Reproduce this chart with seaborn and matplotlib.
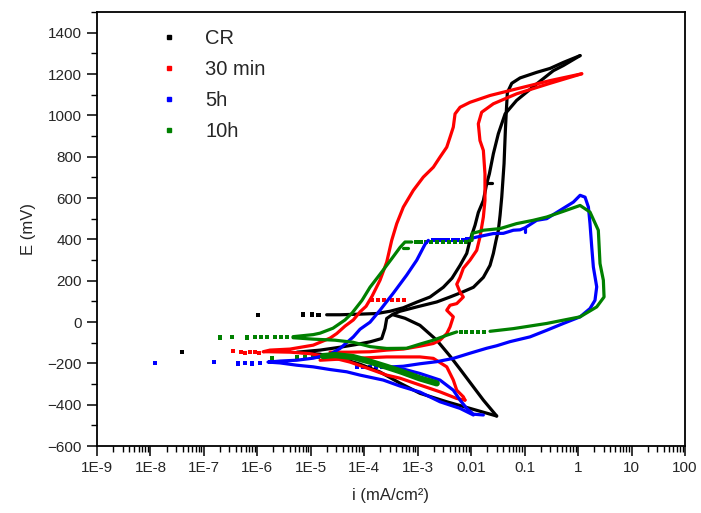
import numpy as np
import pandas as pd
import matplotlib
matplotlib.use("Agg")
import matplotlib.pyplot as plt
import seaborn as sns
from matplotlib.ticker import FixedLocator, FixedFormatter, LogLocator, NullFormatter, MultipleLocator
from matplotlib.lines import Line2D

# ---------------- data (i in mA/cm2, E in mV) ----------------
series_names = ["CR", "30 min", "5h", "10h"]
series_colors = ["#000000", "#ff0000", "#0000ff", "#008000"]

# CR
cr_fwd_i = [3.0e-2, 9.5e-3, 3.49e-3, 1.10e-3, 4.67e-4, 1.97e-4, 8.33e-5, 3.52e-5, 1.49e-5, 5.52e-6,
            1.49e-5, 3.52e-5, 6.71e-5, 1.28e-4, 2.12e-4, 2.44e-4, 2.63e-4, 3.45e-4, 4.67e-4, 9.58e-4,
            2.27e-3, 4.02e-3, 6.74e-3, 1.10e-2, 1.69e-2, 2.25e-2, 2.60e-2, 2.92e-2, 3.22e-2, 3.47e-2,
            3.73e-2, 4.12e-2, 4.36e-2, 4.55e-2, 4.75e-2, 5.74e-2, 8.22e-2, 0.168, 0.299, 0.53, 1.09]
cr_fwd_E = [-455, -418, -386, -345, -296, -242, -204, -175, -156, -146,
            -136, -122, -110, -96, -80, -31, 17, 38, 52, 73,
            97, 121, 144, 168, 216, 274, 332, 395, 443, 516,
            604, 766, 927, 1023, 1110, 1155, 1181, 1208, 1227, 1256, 1289]
cr_rev_i = [1.09, 0.53, 0.344, 0.168, 7.06e-2, 4.31e-2, 3.22e-2, 2.60e-2, 2.19e-2, 1.95e-2,
            1.69e-2, 1.36e-2, 1.18e-2, 9.5e-3, 8.26e-3, 6.19e-3, 4.38e-3, 3.01e-3, 1.70e-3, 9.58e-4,
            5.38e-4, 3.03e-4, 1.71e-4, 8.33e-5, 3.52e-5, 1.98e-5]
cr_rev_E = [1289, 1241, 1216, 1152, 1072, 1007, 911, 814, 717, 669,
            588, 530, 468, 395, 332, 274, 212, 168, 121, 96,
            69, 52, 41, 38, 35, 35]
cr_diag_i = [3.45e-4, 5.79e-4, 1.10e-3, 2.27e-3, 4.02e-3, 6.19e-3, 1.10e-2, 1.69e-2, 3.0e-2]
cr_diag_E = [35, 18, -16, -88, -165, -228, -314, -378, -455]
cr_spur_i = [1.98e-2, 2.46e-2]
cr_spur_E = [675, 675]
cr_dots_i = [3.85e-8, 1.04e-6, 7.24e-6, 1.04e-5, 1.39e-5]
cr_dots_E = [-147, 33, 36, 36, 35]

# 30 min
m30_fwd_i = [7.67e-3, 5.37e-3, 2.61e-3, 1.10e-3, 4.67e-4, 2.63e-4, 1.28e-4, 5.41e-5, 2.29e-5, 9.54e-6,
             4.08e-6, 1.72e-6, 1.28e-6, 1.72e-6, 4.08e-6, 1.11e-5, 2.29e-5, 3.05e-5, 4.36e-5, 6.24e-5,
             8.33e-5, 1.08e-4, 1.40e-4, 1.97e-4, 2.63e-4, 3.26e-4, 4.05e-4, 5.38e-4, 8.27e-4, 1.27e-3,
             1.96e-3, 2.61e-3, 3.49e-3, 4.02e-3, 4.63e-3, 4.99e-3, 6.19e-3, 9.5e-3, 2.25e-2, 7.06e-2,
             0.299, 1.17]
m30_fwd_E = [-378, -370, -338, -305, -272, -257, -228, -194, -170, -153,
             -146, -144, -144, -136, -131, -112, -78, -56, -20, 10,
             49, 76, 125, 202, 290, 395, 476, 556, 637, 701,
             749, 798, 846, 894, 943, 1007, 1039, 1063, 1096, 1128,
             1168, 1201]
m30_rev_i = [1.17, 0.299, 7.06e-2, 2.60e-2, 1.57e-2, 1.36e-2, 1.46e-2, 1.69e-2, 1.81e-2, 1.81e-2,
             1.69e-2, 1.46e-2, 1.27e-2, 9.5e-3, 7.13e-3, 6.19e-3, 5.37e-3, 6.19e-3, 7.13e-3, 5.37e-3,
             4.02e-3, 3.49e-3, 4.63e-3, 4.02e-3, 3.49e-3, 2.61e-3, 1.96e-3, 1.10e-3, 5.38e-4, 2.63e-4,
             1.28e-4, 5.41e-5, 2.29e-5]
m30_rev_E = [1201, 1155, 1104, 1056, 1015, 959, 878, 830, 717, 588,
             508, 411, 347, 299, 260, 216, 183, 144, 121, 89,
             81, 57, 25, -24, -56, -88, -104, -117, -131, -136,
             -144, -146, -146]
m30_bulge_i = [1.49e-5, 6.16e-5, 2.63e-4, 1.10e-3, 1.96e-3, 3.49e-3, 4.63e-3, 5.37e-3, 7.13e-3, 7.67e-3]
m30_bulge_E = [-185, -176, -169, -169, -176, -217, -281, -330, -362, -378]
m30_dots_i = [3.55e-7, 5.0e-7, 5.8e-7, 7.3e-7, 9.0e-7, 1.07e-6,
              1.40e-4, 1.81e-4, 2.34e-4, 3.31e-4, 4.28e-4, 5.54e-4]
m30_dots_E = [-140, -144, -151, -144, -146, -148,
              105, 105, 105, 105, 105, 105]

# 5h
h5_fwd_i = [1.10e-2, 6.19e-3, 2.61e-3, 1.10e-3, 4.67e-4, 2.27e-4, 8.33e-5, 4.70e-5, 2.29e-5, 1.11e-5,
            5.45e-6, 2.65e-6, 1.58e-6, 2.65e-6, 5.45e-6, 1.11e-5, 2.29e-5, 3.52e-5, 6.24e-5, 8.33e-5,
            1.28e-4, 1.97e-4, 3.48e-4, 6.22e-4, 9.58e-4, 1.37e-3, 1.58e-3]
h5_fwd_E = [-450, -418, -386, -339, -310, -281, -257, -241, -230, -217,
            -209, -198, -194, -189, -185, -175, -156, -128, -72, -35,
            -1, 57, 139, 227, 299, 376, 395]
h5_loop_i = [9.5e-3, 1.27e-2, 2.60e-2, 4.0e-2, 6.15e-2, 8.2e-2, 0.102, 0.168, 0.259, 0.459,
             0.815, 1.09, 1.35, 1.56, 1.67, 1.80, 1.93, 2.23, 2.07, 1.67,
             1.09, 0.53, 0.259, 0.126, 5.33e-2, 3.0e-2, 1.95e-2, 9.5e-3, 4.63e-3, 2.27e-3,
             1.10e-3, 5.38e-4, 2.78e-4]
h5_loop_E = [403, 411, 428, 429, 444, 446, 456, 492, 500, 540,
             580, 613, 604, 556, 476, 363, 266, 170, 105, 65,
             25, -7, -40, -72, -95, -115, -127, -151, -176, -192,
             -202, -214, -218]
h5_spur_i = [0.102, 0.102]
h5_spur_E = [434, 456]
h5_bulge_i = [3.03e-4, 5.79e-4, 1.10e-3, 2.61e-3, 4.63e-3, 6.19e-3, 8.26e-3, 1.10e-2, 1.69e-2]
h5_bulge_E = [-223, -230, -249, -281, -330, -378, -418, -446, -450]
h5_dots_i = [1.22e-8, 1.57e-7, 4.40e-7, 5.87e-7, 7.83e-7, 1.12e-6,
             1.97e-3, 2.44e-3, 3.03e-3, 3.75e-3, 4.66e-3, 5.77e-3, 7.16e-3, 8.51e-3,
             7.28e-5, 9.43e-5, 1.28e-4, 1.66e-4, 2.15e-4]
h5_dots_E = [-198, -194, -201, -199, -201, -197,
             395, 395, 395, 395, 395, 395, 395, 400,
             -217, -217, -217, -217, -217]

# 10h
h10_cath_i = [2.27e-3, 1.10e-3, 4.67e-4, 2.63e-4, 1.28e-4, 6.24e-5, 2.84e-5, 1.69e-5]
h10_cath_E = [-297, -273, -238, -217, -192, -170, -160, -165]
h10_anod_i = [4.65e-6, 1.11e-5, 1.49e-5, 2.60e-5, 4.36e-5, 5.9e-5, 9.08e-5, 1.28e-4, 1.97e-4, 3.30e-4,
              4.67e-4, 5.78e-4, 7.72e-4]
h10_anod_E = [-71, -61, -54, -30, 10, 43, 105, 168, 231, 308,
              361, 387, 387]
h10_spur_i = [5.31e-4, 6.59e-4]
h10_spur_E = [357, 357]
h10_loop_i = [9.17e-3, 1.04e-2, 1.04e-2, 1.34e-2, 1.69e-2, 3.47e-2, 7.06e-2, 0.144, 0.259, 0.523,
              1.09, 1.67, 2.39, 2.57, 2.97, 3.06, 2.23, 1.09, 0.259, 6.15e-2, 2.25e-2]
h10_loop_E = [393, 395, 429, 436, 444, 452, 476, 492, 508, 535,
              564, 532, 444, 283, 202, 121, 73, 25, -7, -32, -45]
h10_rev_i = [5.37e-3, 3.49e-3, 1.96e-3, 1.10e-3, 6.22e-4, 2.63e-4, 1.28e-4, 6.16e-5, 2.84e-5, 1.11e-5, 4.65e-6]
h10_rev_E = [-48, -64, -88, -107, -127, -128, -119, -98, -88, -83, -76]
h10_dots_i = [1.86e-6, 5.45e-6, 7.79e-6, 1.10e-5, 1.36e-5,
              2.0e-7, 3.32e-7, 6.31e-7, 9.04e-7, 1.17e-6, 1.50e-6, 2.14e-6, 2.77e-6, 3.59e-6,
              9.5e-4, 1.15e-3, 1.43e-3, 1.77e-3, 2.30e-3, 2.97e-3, 3.85e-3, 4.99e-3, 6.46e-3, 8.01e-3,
              1.74e-2, 1.34e-2, 1.04e-2, 8.01e-3, 6.46e-3]
h10_dots_E = [-176, -169, -169, -169, -170,
              -75, -72, -75, -72, -72, -72, -71, -72, -72,
              387, 387, 387, 387, 387, 387, 387, 387, 387, 387,
              -48, -48, -48, -48, -48]

x_tick_values = [1e-9, 1e-8, 1e-7, 1e-6, 1e-5, 1e-4, 1e-3, 1e-2, 1e-1, 1, 10, 100]
x_tick_labels = ["1E-9", "1E-8", "1E-7", "1E-6", "1E-5", "1E-4", "1E-3", "0.01", "0.1", "1", "10", "100"]
y_tick_values = [-600, -400, -200, 0, 200, 400, 600, 800, 1000, 1200, 1400]

# ---------------- build tables ----------------
line_rows, thick_rows, dot_rows = [], [], []

def add(rows, name, seg, ivals, evals):
    assert len(ivals) == len(evals), (name, seg)
    for a, b in zip(ivals, evals):
        rows.append({"series": name, "seg": f"{name}:{seg}", "i": a, "E": b})

add(line_rows, "CR", "fwd", cr_fwd_i, cr_fwd_E)
add(line_rows, "CR", "rev", cr_rev_i, cr_rev_E)
add(line_rows, "CR", "diag", cr_diag_i, cr_diag_E)
add(line_rows, "CR", "spur", cr_spur_i, cr_spur_E)
add(dot_rows, "CR", "dots", cr_dots_i, cr_dots_E)

add(line_rows, "30 min", "fwd", m30_fwd_i, m30_fwd_E)
add(line_rows, "30 min", "rev", m30_rev_i, m30_rev_E)
add(line_rows, "30 min", "bulge", m30_bulge_i, m30_bulge_E)
add(dot_rows, "30 min", "dots", m30_dots_i, m30_dots_E)

add(line_rows, "5h", "fwd", h5_fwd_i, h5_fwd_E)
add(line_rows, "5h", "loop", h5_loop_i, h5_loop_E)
add(line_rows, "5h", "spur", h5_spur_i, h5_spur_E)
add(line_rows, "5h", "bulge", h5_bulge_i, h5_bulge_E)
add(dot_rows, "5h", "dots", h5_dots_i, h5_dots_E)

add(thick_rows, "10h", "cath", h10_cath_i, h10_cath_E)
add(line_rows, "10h", "anod", h10_anod_i, h10_anod_E)
add(line_rows, "10h", "spur", h10_spur_i, h10_spur_E)
add(line_rows, "10h", "loop", h10_loop_i, h10_loop_E)
add(line_rows, "10h", "rev", h10_rev_i, h10_rev_E)
add(dot_rows, "10h", "dots", h10_dots_i, h10_dots_E)

df_lines = pd.DataFrame(line_rows)
df_thick = pd.DataFrame(thick_rows)
df_dots = pd.DataFrame(dot_rows)
palette = dict(zip(series_names, series_colors))

# ---------------- plot ----------------
sns.set_theme(style="ticks")
plt.rcParams["font.family"] = ["Liberation Sans", "DejaVu Sans"]

fig = plt.figure(figsize=(7.01, 5.13), dpi=100)
ax = fig.add_axes([97 / 701, 1 - 446 / 513, 588 / 701, 434 / 513])
ax.set_xscale("log")

sns.lineplot(data=df_lines, x="i", y="E", hue="series", hue_order=series_names, units="seg",
             estimator=None, sort=False, palette=palette, linewidth=2.3, legend=False, ax=ax)
sns.lineplot(data=df_thick, x="i", y="E", hue="series", units="seg", estimator=None, sort=False,
             palette=palette, linewidth=4.5, legend=False, ax=ax)
sns.scatterplot(data=df_dots, x="i", y="E", hue="series", hue_order=series_names, palette=palette,
                marker="s", s=9, linewidth=0, legend=False, ax=ax)

ax.set_xlim(1e-9, 100)
ax.set_ylim(-600, 1500)
ax.xaxis.set_major_locator(FixedLocator(x_tick_values))
ax.xaxis.set_major_formatter(FixedFormatter(x_tick_labels))
ax.xaxis.set_minor_locator(LogLocator(base=10, subs=np.arange(2, 10), numticks=100))
ax.xaxis.set_minor_formatter(NullFormatter())
ax.yaxis.set_major_locator(FixedLocator(y_tick_values))
ax.yaxis.set_minor_locator(MultipleLocator(100))

ax.tick_params(which="major", direction="out", length=7, width=1.1, labelsize=11, pad=4, color="black")
ax.tick_params(which="minor", direction="out", length=4, width=1.0, color="black")
for sp in ax.spines.values():
    sp.set_linewidth(1.3)
    sp.set_color("black")

ax.set_xlabel("i (mA/cm²)", fontsize=12, labelpad=9)
ax.set_ylabel("E (mV)", fontsize=12, labelpad=8)

handles = [Line2D([], [], marker="s", color=c, linestyle="none", markersize=3.2) for c in series_colors]
ax.legend(handles, series_names, loc="upper left", bbox_to_anchor=(159 / 701, 1 - 29 / 513),
          bbox_transform=fig.transFigure, frameon=False, fontsize=14.5, handlelength=1.0,
          handletextpad=1.3, labelspacing=0.6, borderpad=0, borderaxespad=0)

fig.savefig("out.png", dpi=100)
